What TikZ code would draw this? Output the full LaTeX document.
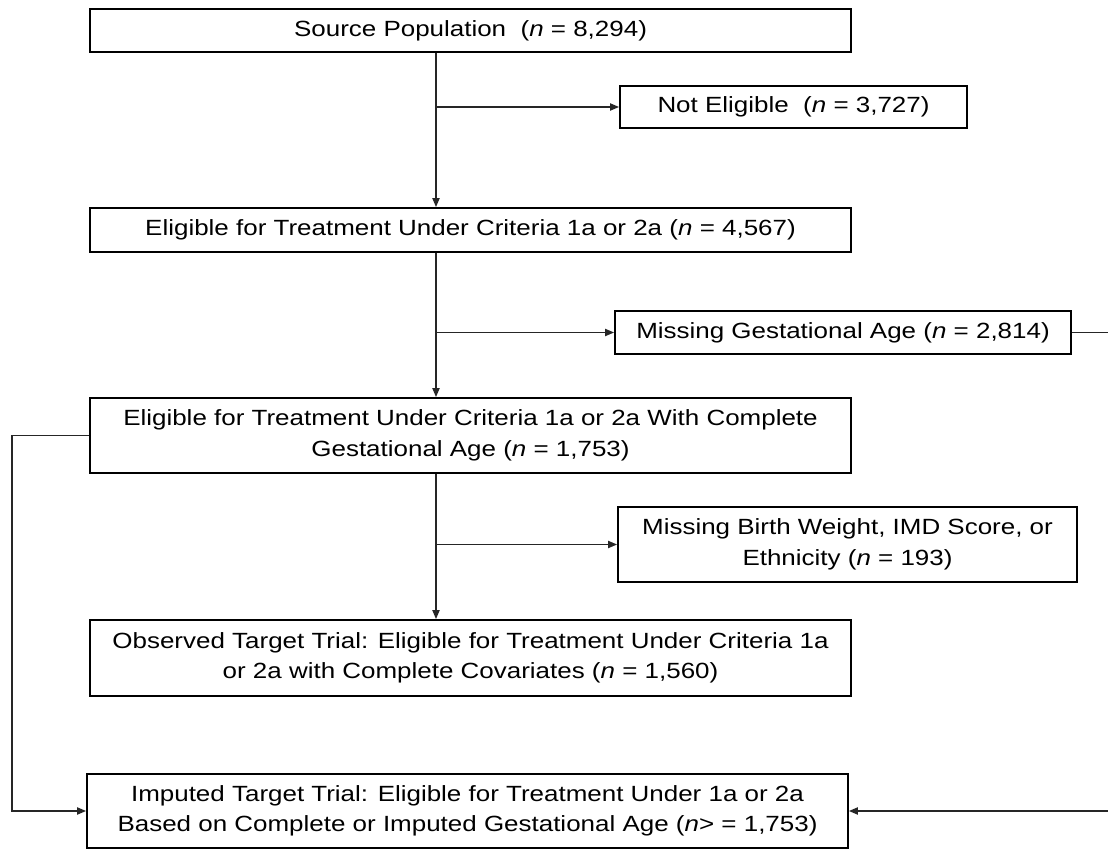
\documentclass[tikz,border=0pt]{standalone}
\usepackage{fontspec}
\setmainfont{Liberation Sans}[FakeStretch=1.18]
\usetikzlibrary{arrows.meta}
\begin{document}
\begin{tikzpicture}[x=1pt,y=-1pt,
 box/.style={draw=black,line width=1.7pt,fill=white,inner sep=0pt,align=center,
   font=\fontsize{22}{30.5}\selectfont,text=black},
 conn/.style={line width=1.8pt,draw=black!85,-{Triangle[length=9pt,width=7pt]}}]
\useasboundingbox (0,0) rectangle (1108,850);
\fill[white] (0,0) rectangle (1108,850);
\coordinate (sp) at (436,0);
\coordinate (lft) at (12,0);
\coordinate (rgt) at (1114,0);

\node[box,minimum width=761pt,minimum height=43pt] (src) at (470.5,30.5)
  {Source Population\ \ (\textit{n} = 8,294)};
\node[box,minimum width=347pt,minimum height=42pt] (notel) at (793.5,107)
  {Not Eligible\ \ (\textit{n} = 3,727)};
\node[box,minimum width=761pt,minimum height=44pt] (elig) at (470.5,230)
  {Eligible for Treatment Under Criteria 1a or 2a (\textit{n} = 4,567)};
\node[box,minimum width=456pt,minimum height=43pt] (missga) at (843,332.5)
  {Missing Gestational Age (\textit{n} = 2,814)};
\node[box,minimum width=761pt,minimum height=75pt] (compl) at (470.5,435.5)
  {Eligible for Treatment Under Criteria 1a or 2a With Complete\\Gestational Age (\textit{n} = 1,753)};
\node[box,minimum width=459pt,minimum height=75pt] (missbw) at (847.5,544.5)
  {Missing Birth Weight, IMD Score, or\\Ethnicity (\textit{n} = 193)};
\node[box,minimum width=761pt,minimum height=76pt] (obs) at (470.5,658)
  {Observed Target Trial: Eligible for Treatment Under Criteria 1a\\or 2a with Complete Covariates (\textit{n} = 1,560)};
\node[box,minimum width=761pt,minimum height=74pt] (imp) at (467.5,811)
  {Imputed Target Trial: Eligible for Treatment Under 1a or 2a\\Based on Complete or Imputed Gestational Age (\textit{n}> = 1,753)};

% main spine
\draw[conn] (src.south -| sp) -- (elig.north -| sp);
\draw[conn] (sp |- notel) -- (notel.west);
\draw[conn] (elig.south -| sp) -- (compl.north -| sp);
\draw[conn] (sp |- missga) -- (missga.west);
\draw[conn] (compl.south -| sp) -- (obs.north -| sp);
\draw[conn] (sp |- missbw) -- (missbw.west);

% feedback lines to imputed trial
\draw[conn] (compl.west) -- (compl.west -| lft) -- (imp.west -| lft) -- (imp.west);
\draw[conn] (missga.east) -- (missga.east -| rgt) -- (imp.east -| rgt) -- (imp.east);
\end{tikzpicture}
\end{document}
